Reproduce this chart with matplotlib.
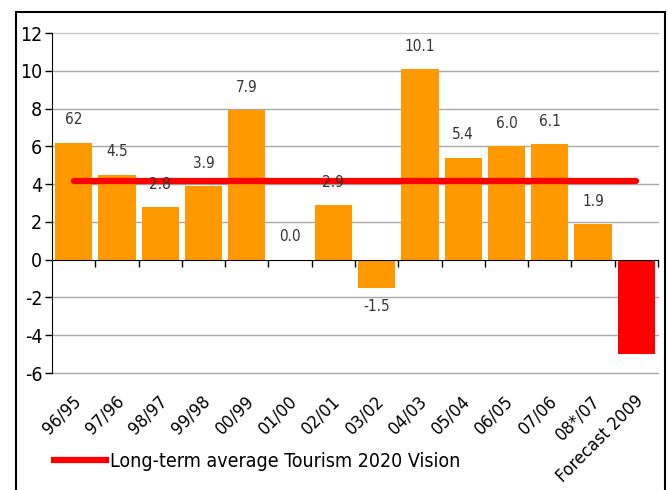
import matplotlib
matplotlib.use("Agg")
import matplotlib.pyplot as plt
from matplotlib.patches import Rectangle
from matplotlib.lines import Line2D
from matplotlib import font_manager
from matplotlib.font_manager import FontProperties

categories = ["96/95", "97/96", "98/97", "99/98", "00/99", "01/00", "02/01",
              "03/02", "04/03", "05/04", "06/05", "07/06", "08*/07", "Forecast 2009"]
values = [6.2, 4.5, 2.8, 3.9, 7.9, 0.0, 2.9, -1.5, 10.1, 5.4, 6.0, 6.1, 1.9, -5.0]
value_labels = ["62", "4.5", "2.8", "3.9", "7.9", "0.0", "2.9", "-1.5", "10.1",
                "5.4", "6.0", "6.1", "1.9", None]
average_value = 4.15
legend_label = "Long-term average Tourism 2020 Vision"
yticks = [-6, -4, -2, 0, 2, 4, 6, 8, 10, 12]

plt.rcParams['axes.unicode_minus'] = False

# look for a condensed / narrow sans font
cands = []
for f in font_manager.fontManager.ttflist:
    nm = f.name.lower()
    fn = f.fname.lower()
    narrow = ("narrow" in nm or "condensed" in nm or "narrow" in fn or "condensed" in fn)
    if isinstance(f.stretch, str):
        narrow = narrow or f.stretch in ("condensed", "semi-condensed", "extra-condensed", "ultra-condensed")
    elif isinstance(f.stretch, int):
        narrow = narrow or f.stretch < 500
    if narrow and f.style == "normal" and "mono" not in nm and "serif" not in nm.replace("sans", ""):
        w = f.weight if isinstance(f.weight, int) else 400
        cands.append((abs(w - 400), "bold" in fn, f.fname, f.name))
cands.sort()
if cands:
    base = FontProperties(fname=cands[0][2])
else:
    base = FontProperties(family="Liberation Sans")


def fp(size):
    p = base.copy()
    p.set_size(size)
    return p


fig = plt.figure(figsize=(6.68, 4.9), dpi=100)
W, H = 668, 490
ax = fig.add_axes([52 / W, 1 - 373 / H, (658 - 52) / W, (373 - 33) / H])

colors = ["#FF9900"] * (len(values) - 1) + ["#FF0000"]
x = list(range(len(values)))
ax.bar(x, values, width=0.86, color=colors, zorder=3)

ax.plot([x[0], x[-1]], [average_value, average_value], color="#FF0000", lw=4.5,
        solid_capstyle="round", zorder=4, label=legend_label)

for i, (v, lab) in enumerate(zip(values, value_labels)):
    if lab is None:
        continue
    if v >= 0:
        ax.annotate(lab, (i, v), xytext=(0, 11), textcoords="offset points",
                    ha="center", va="bottom", fontproperties=fp(11), color="#333333", zorder=5)
    else:
        ax.annotate(lab, (i, v), xytext=(0, -8), textcoords="offset points",
                    ha="center", va="top", fontproperties=fp(11), color="#333333", zorder=5)

ax.set_xlim(-0.5, len(values) - 0.5)
ax.set_ylim(-6, 12)
ax.set_yticks(yticks)
ax.set_yticklabels([str(t) for t in yticks])
for lbl in ax.get_yticklabels():
    lbl.set_fontproperties(fp(14))
ax.tick_params(axis="y", direction="out", length=5, width=1, pad=2)
for t in yticks:
    if t != 0:
        ax.axhline(t, color="#C8C8C8" if t == 12 else "#A8A8A8", lw=1.0, zorder=1,
                   clip_on=False)

ax.spines["top"].set_visible(False)
ax.spines["right"].set_visible(False)
ax.spines["bottom"].set_position(("data", 0))
ax.spines["bottom"].set_zorder(6)
ax.spines["left"].set_zorder(6)
ax.set_xticks([i + 0.5 for i in range(len(values))])
ax.set_xticklabels([])
ax.tick_params(axis="x", direction="out", length=5, width=1)

for i, c in enumerate(categories):
    ax.text(i - 0.05, -7.0, c, rotation=45, ha="right", va="top",
            rotation_mode="anchor", fontproperties=fp(13))

leg = fig.legend(handles=[Line2D([0], [0], color="#FF0000", lw=4.5)],
                 labels=[legend_label], loc="center left",
                 bbox_to_anchor=(36 / W, 1 - 461 / H), frameon=False,
                 prop=fp(14), handlelength=2.7, handletextpad=0.2)

fig.patches.append(Rectangle((16 / W, -0.01), (665 - 16) / W, 1 - 12 / H + 0.01,
                             transform=fig.transFigure, fill=False,
                             edgecolor="black", lw=1.5))

fig.savefig("out.png", dpi=100)
